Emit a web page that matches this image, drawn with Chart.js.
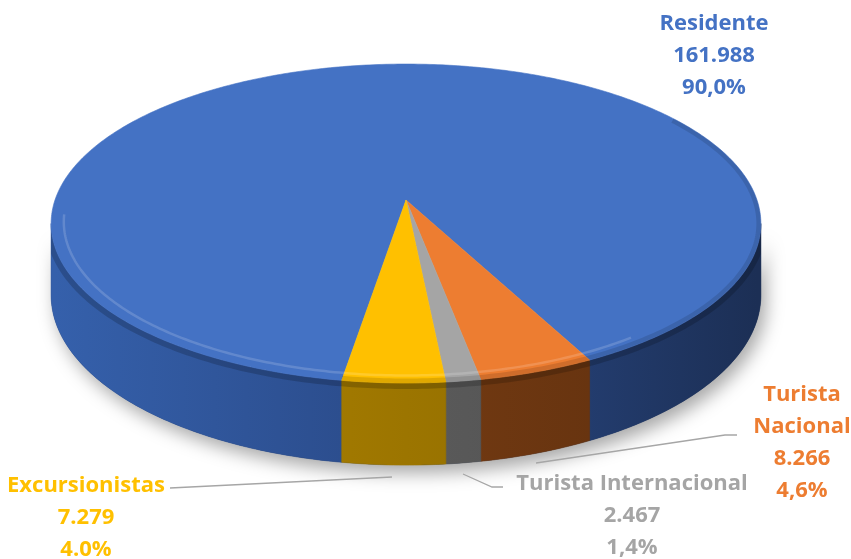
<!DOCTYPE html>
<html>
<head>
<meta charset="utf-8">
<script src="https://cdn.jsdelivr.net/npm/chart.js@4.4.1/dist/chart.umd.min.js"></script>
<style>
    html, body { margin: 0; padding: 0; background: #fff; }
    #chart { display: block; }
</style>
</head>
<body>
<canvas id="chart" width="851" height="559"></canvas>
<script>
// datos del gráfico
const categories = ['Residente', 'Turista Nacional', 'Turista Internacional', 'Excursionistas'];
const visitors = [161988, 8266, 2467, 7279];
const countLabels = ['161.988', '8.266', '2.467', '7.279'];
const shareLabels = ['90,0%', '4,6%', '1,4%', '4.0%'];

const topColors = ['#4472C4', '#ED7D31', '#A5A5A5', '#FFC000'];
const sideColors = [
    ['#3560ab', '#2a4a88', '#1c2f55'],
    ['#8a4718', '#733a12', '#5e2f0e'],
    ['#666666', '#5a5a5a', '#4e4e4e'],
    ['#b58800', '#9c7500', '#876600']
];

// proyección en perspectiva de la tarta
const CX = 406, CY = 200, AX = 351, AY = 156, PERSP = 6.78, DEPTH = 70;
const FONT = '700 22px "Open Sans", sans-serif';
const STEP = Math.PI / 240;

function proj(theta, r, down) {
    const u = r * Math.cos(theta), v = r * Math.sin(theta);
    const s = PERSP / (PERSP - v);
    return [CX + AX * u * s, CY + AY * v * s + (down ? DEPTH * s : 0)];
}

function rimPath(ctx, a, b, r, down, first) {
    const n = Math.max(2, Math.ceil(Math.abs(b - a) / STEP));
    for (let k = 0; k <= n; k++) {
        const p = proj(a + (b - a) * k / n, r, down);
        if (k === 0 && first) ctx.moveTo(p[0], p[1]); else ctx.lineTo(p[0], p[1]);
    }
}

// ángulos del lateral visible
const T_LO = Math.asin(1 / PERSP), T_HI = Math.PI - T_LO;

function frontParts(s, e) {
    const parts = [];
    for (let k = -2; k <= 2; k++) {
        const a = Math.max(s, 2 * Math.PI * k + T_LO);
        const b = Math.min(e, 2 * Math.PI * k + T_HI);
        if (b > a) parts.push([a, b]);
    }
    return parts;
}

function sidePath(ctx, a, b) {
    ctx.beginPath();
    rimPath(ctx, a, b, 1, false, true);
    rimPath(ctx, b, a, 1, true, false);
    ctx.closePath();
}

const pie3d = {
    id: 'pie3d',
    beforeDatasetsDraw(chart) {
        const ctx = chart.ctx;
        const arcs = chart.getDatasetMeta(0).data;

        // sombra
        ctx.save();
        ctx.shadowColor = 'rgba(0,0,0,0.35)';
        ctx.shadowBlur = 18;
        ctx.shadowOffsetX = 5;
        ctx.shadowOffsetY = 8;
        ctx.fillStyle = '#1c2f55';
        sidePath(ctx, T_LO, T_HI);
        ctx.fill();
        ctx.restore();

        // laterales
        arcs.forEach((arc, i) => {
            frontParts(arc.startAngle, arc.endAngle).forEach(([a, b]) => {
                const g = ctx.createLinearGradient(CX - AX, 0, CX + AX, 0);
                g.addColorStop(0, sideColors[i][0]);
                g.addColorStop(0.5, sideColors[i][1]);
                g.addColorStop(1, sideColors[i][2]);
                sidePath(ctx, a, b);
                ctx.fillStyle = g;
                ctx.strokeStyle = g;
                ctx.lineWidth = 0.6;
                ctx.fill();
                ctx.stroke();
            });
        });

        // sombreado superior del lateral
        ctx.save();
        sidePath(ctx, T_LO, T_HI);
        ctx.clip();
        ctx.lineWidth = 12;
        ctx.strokeStyle = 'rgba(0,0,0,0.18)';
        ctx.beginPath();
        rimPath(ctx, T_LO, T_HI, 1, false, true);
        ctx.stroke();
        ctx.restore();

        // cara superior a partir de los arcos de Chart.js
        arcs.forEach((arc, i) => {
            ctx.beginPath();
            const c = proj(0, 0, false);
            ctx.moveTo(c[0], c[1]);
            rimPath(ctx, arc.startAngle, arc.endAngle, 1, false, false);
            ctx.closePath();
            ctx.fillStyle = topColors[i];
            ctx.strokeStyle = topColors[i];
            ctx.lineWidth = 0.6;
            ctx.fill();
            ctx.stroke();
        });

        // bisel del borde
        ctx.save();
        ctx.beginPath();
        rimPath(ctx, 0, 2 * Math.PI, 1, false, true);
        ctx.closePath();
        ctx.clip();
        ctx.lineWidth = 9;
        ctx.strokeStyle = 'rgba(0,0,0,0.12)';
        ctx.beginPath();
        rimPath(ctx, -0.6, Math.PI * 0.55, 1, false, true);
        ctx.stroke();
        ctx.lineWidth = 2.5;
        ctx.strokeStyle = 'rgba(255,255,255,0.16)';
        ctx.beginPath();
        rimPath(ctx, Math.PI * 0.3, Math.PI * 0.97, 0.965, false, true);
        ctx.stroke();
        ctx.restore();
        return false;
    },
    afterDraw(chart) {
        const ctx = chart.ctx;
        ctx.save();
        // líneas guía
        ctx.strokeStyle = '#a6a6a6';
        ctx.lineWidth = 1.3;
        const leaders = [
            [[536, 463], [725, 435], [737, 435]],
            [[463, 474], [492, 487], [503, 487]],
            [[392, 477], [170, 488]]
        ];
        leaders.forEach(pts => {
            ctx.beginPath();
            ctx.moveTo(pts[0][0], pts[0][1]);
            pts.slice(1).forEach(p => ctx.lineTo(p[0], p[1]));
            ctx.stroke();
        });

        // etiquetas
        ctx.font = FONT;
        ctx.textAlign = 'center';
        ctx.textBaseline = 'middle';
        const labelPos = [
            { x: 714, y: 24, name: [categories[0]] },
            { x: 802, y: 395, name: categories[1].split(' ') },
            { x: 632, y: 484, name: [categories[2]] },
            { x: 86, y: 486, name: [categories[3]] }
        ];
        labelPos.forEach((p, i) => {
            const lines = p.name.concat([countLabels[i], shareLabels[i]]);
            ctx.fillStyle = topColors[i];
            lines.forEach((t, j) => ctx.fillText(t, p.x, p.y + j * 32));
        });
        ctx.restore();
    }
};

new Chart(document.getElementById('chart'), {
    type: 'pie',
    data: {
        labels: categories,
        datasets: [{
            data: visitors,
            backgroundColor: topColors,
            borderWidth: 0
        }]
    },
    options: {
        responsive: false,
        animation: false,
        rotation: 189,
        plugins: {
            legend: { display: false },
            tooltip: { enabled: false }
        }
    },
    plugins: [pie3d]
});
</script>
</body>
</html>
